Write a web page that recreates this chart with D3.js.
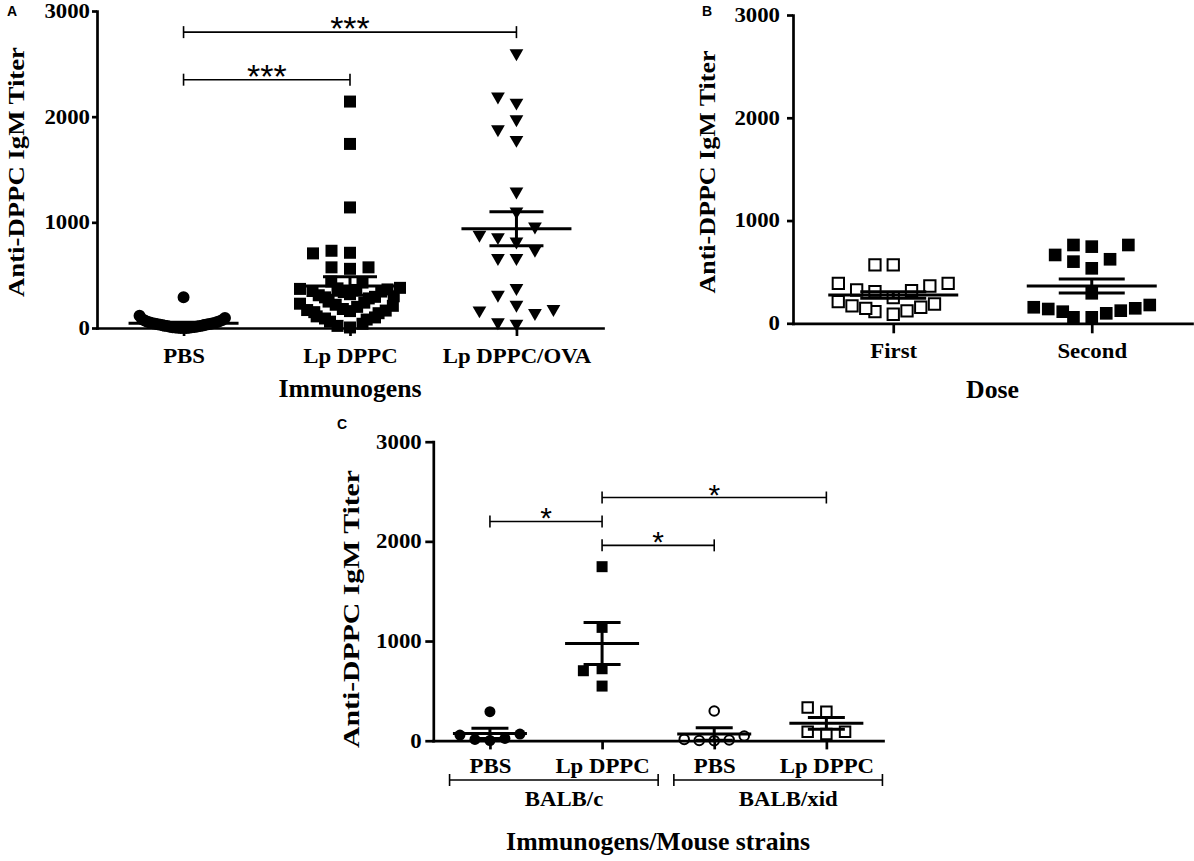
<!DOCTYPE html>
<html>
<head>
<meta charset="utf-8">
<script src="https://cdn.jsdelivr.net/npm/d3@7"></script>
<style>
  body { margin: 0; background: #fff; }
</style>
</head>
<body>
<svg id="fig" width="1194" height="861"></svg>
<script>
// ---- values ----
var yTicks = [0, 1000, 2000, 3000];
var yTitle = "Anti-DPPC IgM Titer";

// panel A
var aCategories = ["PBS", "Lp DPPC", "Lp DPPC/OVA"];
var aPBS = [290, 115, 95, 82, 76, 70, 65, 60, 56, 52, 48, 45, 42, 40, 38, 36, 33, 30, 28, 26, 24, 22, 20, 18, 15, 12, 10, 8, 6, 5, 3, 2, 1, 0, 0];
var aLpDPPC = [2143, 1742, 1141, 731, 712, 706, 574, 574, 560, 440, 430, 380, 375, 370, 365, 360, 350, 345, 340, 320, 310, 300, 295, 290, 280, 250, 240, 230, 220, 210, 200, 180, 170, 165, 160, 150, 140, 110, 100, 90, 80, 60, 40, 20, 5];
var aLpDPPCOVA = [2600, 2190, 2133, 1976, 1881, 1780, 1292, 1103, 961, 882, 860, 819, 740, 662, 662, 378, 315, 220, 180, 167, 142, 54, 41];
var aMeans = [45, 397, 940];
var aSEM = [9, 88, 161];
var aSig = [
  {from: 0, to: 1, value: 2350, label: "***"},
  {from: 0, to: 2, value: 2800, label: "***"}
];

// panel B
var bCategories = ["First", "Second"];
var bFirst = [568, 568, 389, 389, 363, 324, 318, 308, 250, 211, 188, 169, 156, 146, 120, 113, 88];
var bSecond = [762, 762, 746, 665, 623, 600, 535, 292, 178, 156, 146, 139, 123, 113, 97, 58, 58];
var bMeans = [276, 363];
var bSEM = [32, 68];

// panel C
var cCategories = ["PBS", "Lp DPPC", "PBS", "Lp DPPC"];
var cStrains = ["BALB/c", "BALB/xid"];
var cBalbcPBS = [291, 67, 57, 23, 13, 2];
var cBalbcLp = [1746, 1137, 722, 702, 548];
var cXidPBS = [298, 47, 13, 7, 2, 0];
var cXidLp = [334, 291, 90, 90, 67];
var cMeans = [73, 976, 67, 174];
var cSEM = [51, 211, 63, 60];
var cSig = [
  {from: 0, to: 1, value: 2200, label: "*"},
  {from: 1, to: 3, value: 2440, label: "*"},
  {from: 1, to: 2, value: 1960, label: "*"}
];

// ---- drawing ----
var svg = d3.select("#fig");
var serif = "'Liberation Serif','Times New Roman',serif";
var sans = "'Liberation Sans',Arial,sans-serif";

function stretch(sel, k) {
  sel.each(function() {
    var w = this.getComputedTextLength();
    d3.select(this).attr("textLength", w * k).attr("lengthAdjust", "spacingAndGlyphs");
  });
}

function boldText(g, x, y, txt, size) {
  return g.append("text")
    .attr("x", x).attr("y", y)
    .attr("text-anchor", "middle")
    .style("font-family", serif)
    .style("font-weight", "bold")
    .style("font-size", size + "px")
    .attr("fill", "#000")
    .text(txt);
}

// simple GraphPad-like scatter: slots of width u, wide rows squeezed into maxHalf
function swarm(values, y, cx, u, D, maxHalf) {
  var pts = values.map(function(v) { return {v: v, py: y(v)}; });
  var order = pts.slice().sort(function(a, b) { return a.v - b.v; });
  var placed = [];
  order.forEach(function(p) {
    for (var n = 0; ; n++) {
      var k = n === 0 ? 0 : (n % 2 === 1 ? -Math.ceil(n / 2) : n / 2);
      var dx = k * u;
      var hit = placed.some(function(q) {
        return Math.abs(q.dx - dx) < u - 0.5 && Math.abs(q.py - p.py) < D;
      });
      if (!hit) { p.dx = dx; break; }
    }
    placed.push(p);
  });
  placed.forEach(function(p) {
    var m = d3.max(placed.filter(function(q) { return Math.abs(q.py - p.py) < D * 0.6; }),
      function(q) { return Math.abs(q.dx); });
    p.f = m > maxHalf ? maxHalf / m : 1;
  });
  placed.forEach(function(p) { p.x = cx + p.dx * p.f; });
  return placed;
}

function panel(cfg) {
  var g = svg.append("g");
  var y = d3.scaleLinear().domain([0, 3000]).range([cfg.y0, cfg.y1]);
  var x = d3.scalePoint().domain(d3.range(cfg.cats.length))
    .range([cfg.left, cfg.right]).padding(cfg.pad);

  // points
  cfg.groups.forEach(function(grp, i) {
    var pts = swarm(grp.values, y, x(i), cfg.u, cfg.D, grp.half);
    var sym = d3.symbol().type(grp.shape).size(grp.size);
    g.append("g").selectAll("path")
      .data(pts)
      .enter()
      .append("path")
      .attr("d", sym)
      .attr("transform", function(d) {
        return "translate(" + d.x + "," + d.py + ")" + (grp.flip ? " rotate(180)" : "");
      })
      .attr("fill", grp.open ? "#fff" : "#000")
      .attr("stroke", grp.open ? "#000" : "none")
      .attr("stroke-width", grp.open ? 2 : 0);
  });

  // mean and SEM
  var ms = g.append("g").attr("stroke", "#000").attr("stroke-width", 3);
  cfg.means.forEach(function(m, i) {
    var cx = x(i), s = cfg.sem[i];
    ms.append("line").attr("x1", cx - cfg.meanHalf).attr("x2", cx + cfg.meanHalf)
      .attr("y1", y(m)).attr("y2", y(m));
    ms.append("line").attr("x1", cx).attr("x2", cx)
      .attr("y1", y(Math.max(0, m - s))).attr("y2", y(m + s));
    [m - s, m + s].forEach(function(v) {
      ms.append("line").attr("x1", cx - cfg.capHalf).attr("x2", cx + cfg.capHalf)
        .attr("y1", y(Math.max(0, v))).attr("y2", y(Math.max(0, v)));
    });
  });

  // axes
  var ya = g.append("g").attr("transform", "translate(" + cfg.left + ",0)")
    .call(d3.axisLeft(y).tickValues(yTicks).tickFormat(d3.format("d"))
      .tickSize(cfg.yTick).tickPadding(cfg.yPad).tickSizeOuter(0));
  var xa = g.append("g").attr("transform", "translate(0," + cfg.y0 + ")")
    .call(d3.axisBottom(x).tickSize(cfg.xTick).tickPadding(cfg.xPad).tickSizeOuter(0)
      .tickFormat(function(i) { return cfg.cats[i]; }));
  [ya, xa].forEach(function(a) {
    a.select(".domain").attr("stroke", "#000").attr("stroke-width", 2.7).attr("stroke-linecap", "square");
    a.selectAll(".tick line").attr("stroke", "#000").attr("stroke-width", 2.7);
    a.selectAll(".tick text").attr("fill", "#000")
      .style("font-family", serif).style("font-weight", "bold").style("font-size", "20px");
    stretch(a.selectAll(".tick text"), 1.14);
  });

  // axis titles
  stretch(boldText(g, (cfg.left + cfg.right) / 2, cfg.xTitleY, cfg.xTitle, 25), 1.03);
  boldText(g, 0, 0, yTitle, 23)
    .attr("transform", "translate(" + cfg.yTitleX + "," + cfg.yTitleY + ") rotate(-90)")
    .attr("textLength", cfg.yTitleLen).attr("lengthAdjust", "spacingAndGlyphs");

  // panel letter
  g.append("text").attr("x", cfg.letterX).attr("y", cfg.letterY)
    .style("font-family", sans).style("font-weight", "bold").style("font-size", "14px")
    .text(cfg.letter);

  // significance brackets
  (cfg.sig || []).forEach(function(s) {
    var x1 = x(s.from), x2 = x(s.to), yy = y(s.value);
    var b = g.append("g").attr("stroke", "#000").attr("stroke-width", 1.6);
    b.append("line").attr("x1", x1).attr("x2", x2).attr("y1", yy).attr("y2", yy);
    [x1, x2].forEach(function(xx) {
      b.append("line").attr("x1", xx).attr("x2", xx).attr("y1", yy - 6).attr("y2", yy + 6);
    });
    g.append("text").attr("x", (x1 + x2) / 2).attr("y", yy + cfg.starDy)
      .attr("text-anchor", "middle")
      .style("font-family", sans).style("font-size", cfg.starSize + "px")
      .text(s.label);
  });

  return {g: g, x: x, y: y};
}

// panel A
panel({
  letter: "A", letterX: 7, letterY: 16,
  left: 97, right: 603, y0: 328, y1: 11, pad: 0.52,
  cats: aCategories, yTick: 5, yPad: 2, xTick: 8, xPad: 13,
  xTitle: "Immunogens", xTitleY: 397,
  yTitleX: 24, yTitleY: 172, yTitleLen: 250,
  u: 18.5, D: 16,
  groups: [
    {values: aPBS, shape: d3.symbolCircle, size: 113, half: 44},
    {values: aLpDPPC, shape: d3.symbolSquare, size: 144, half: 50},
    {values: aLpDPPCOVA, shape: d3.symbolTriangle, size: 82, flip: true, half: 40}
  ],
  means: aMeans, sem: aSEM, meanHalf: 55, capHalf: 27,
  sig: aSig, starSize: 34, starDy: 8
});

// panel B
panel({
  letter: "B", letterX: 702, letterY: 16,
  left: 793, right: 1192, y0: 323.3, y1: 15, pad: 0.505,
  cats: bCategories, yTick: 6, yPad: 7, xTick: 10, xPad: 10.5,
  xTitle: "Dose", xTitleY: 398,
  yTitleX: 715, yTitleY: 172, yTitleLen: 243,
  u: 18.3, D: 16,
  groups: [
    {values: bFirst, shape: d3.symbolSquare, size: 128, open: true, half: 55},
    {values: bSecond, shape: d3.symbolSquare, size: 160, half: 58}
  ],
  means: bMeans, sem: bSEM, meanHalf: 65, capHalf: 33
});

// panel C
var pc = panel({
  letter: "C", letterX: 337, letterY: 429,
  left: 433.3, right: 883, y0: 740.7, y1: 441.7, pad: 0.505,
  cats: cCategories, yTick: 8, yPad: 3.6, xTick: 8.7, xPad: 9.3,
  xTitle: "Immunogens/Mouse strains", xTitleY: 850,
  yTitleX: 359, yTitleY: 609, yTitleLen: 278,
  u: 18.7, D: 16,
  groups: [
    {values: cBalbcPBS, shape: d3.symbolCircle, size: 95, half: 30},
    {values: cBalbcLp, shape: d3.symbolSquare, size: 121, half: 30},
    {values: cXidPBS, shape: d3.symbolCircle, size: 72, open: true, half: 30},
    {values: cXidLp, shape: d3.symbolSquare, size: 110, open: true, half: 30}
  ],
  means: cMeans, sem: cSEM, meanHalf: 37, capHalf: 18.5,
  sig: cSig, starSize: 30, starDy: 7
});

// strain brackets under panel C
var step = pc.x.step();
cStrains.forEach(function(name, k) {
  var i0 = k * 2, i1 = k * 2 + 1;
  var x1 = pc.x(i0) - step * 0.36, x2 = pc.x(i1) + step * 0.5, yy = 780;
  var b = pc.g.append("g").attr("stroke", "#000").attr("stroke-width", 1.6);
  b.append("line").attr("x1", x1).attr("x2", x2).attr("y1", yy).attr("y2", yy);
  [x1, x2].forEach(function(xx) {
    b.append("line").attr("x1", xx).attr("x2", xx).attr("y1", yy - 6).attr("y2", yy + 6);
  });
  stretch(boldText(pc.g, (pc.x(i0) + pc.x(i1)) / 2 + 18, 806, name, 20), 1.14);
});
</script>
</body>
</html>
